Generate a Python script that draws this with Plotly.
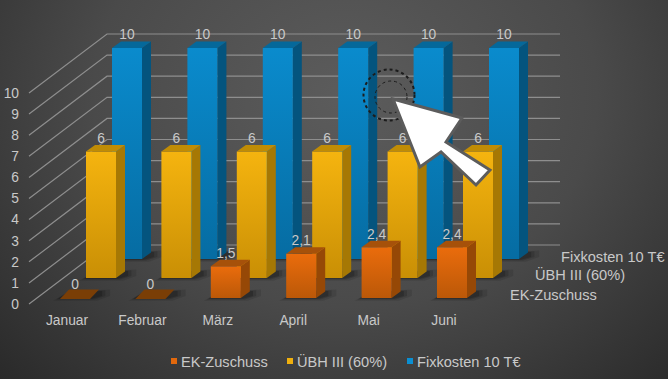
import plotly.graph_objects as go

# ---- data ----
months = ["Januar", "Februar", "März", "April", "Mai", "Juni"]
ek_zuschuss = [0, 0, 1.5, 2.1, 2.4, 2.4]
uebh = [6, 6, 6, 6, 6, 6]
fixkosten = [10, 10, 10, 10, 10, 10]
y_ticks = list(range(0, 11))
series_names = ["EK-Zuschuss", "ÜBH III (60%)", "Fixkosten 10 T€"]

# ---- scale: one axis unit in pixels, and the oblique 3D offsets ----
W, H = 668, 379
PX, PY = 75.4, 21.1
X0, Y0 = 67, 304
FONT = "Liberation Sans, Arial, sans-serif"
TXT = "#c9c9c9"
FS = 13.8
FS_SERIES = 14.6
BAR_W = 30 / PX
DX, DY = 9 / PX, 6.5 / PY
WALL_X, WALL_Y = 78 / PX, 59 / PY
LEFT = (29 - X0) / PX
RIGHT = (560 - X0) / PX

styles = [
    dict(name=series_names[2], vals=fixkosten, ox=60, oy=45, front=("#0a8bcd", "#066ca2"), side="#04547e", top="#05689a", zero="#04547e"),
    dict(name=series_names[1], vals=uebh, ox=34, oy=26, front=("#f5b40f", "#c98f05"), side="#a67804", top="#c08c05", zero="#a67804"),
    dict(name=series_names[0], vals=ek_zuschuss, ox=8, oy=6, front=("#ea6c0c", "#bb5808"), side="#964806", top="#a6510a", zero="#7a3e06"),
]

fig = go.Figure()


def poly(xs, ys, color=None, grad=None):
    kw = dict(x=xs + xs[:1], y=ys + ys[:1], mode="lines", fill="toself",
              line=dict(width=0), hoverinfo="skip", showlegend=False)
    if grad:
        kw["fillgradient"] = dict(type="vertical", colorscale=[[0, grad[1]], [1, grad[0]]])
    else:
        kw["fillcolor"] = color
    fig.add_trace(go.Scatter(**kw))


# background
cx, cy = (345 - X0) / PX, (Y0 - 95) / PY
rx, ry = 560 / PX, 470 / PY
fig.add_trace(go.Scatter(
    x=[cx - rx, cx + rx, cx + rx, cx - rx, cx - rx],
    y=[cy - ry, cy - ry, cy + ry, cy + ry, cy - ry],
    mode="lines", fill="toself", line=dict(width=0), hoverinfo="skip", showlegend=False,
    fillgradient=dict(type="radial", colorscale=[[0, "#5c5c5c"], [0.45, "#4a4a4a"], [1, "#1f1f1f"]]),
))

# wall grid
gx, gy = [], []
for v in y_ticks:
    gx += [LEFT, LEFT + WALL_X, RIGHT, None]
    gy += [v, v + WALL_Y, v + WALL_Y, None]
fig.add_trace(go.Scatter(x=gx, y=gy, mode="lines", line=dict(color="#8e8e8e", width=1.2),
                         hoverinfo="skip", showlegend=False))

# bars
label_x, label_y, label_t = [], [], []
for s in styles:
    ox, oy = s["ox"] / PX, s["oy"] / PY
    for i, v in enumerate(s["vals"]):
        x0 = i + ox - BAR_W / 2
        x1 = x0 + BAR_W
        b = oy
        t = oy + v
        # soft floor shadow
        for grow, alpha in ((7, 0.10), (4, 0.14), (2, 0.18)):
            g = grow / PX
            gyy = grow / PY
            poly([x0 - g, x1 + g, x1 + DX + g * 1.6, x1 + DX + g * 1.6, x0 + DX],
                 [b - gyy * 0.4, b - gyy * 0.4, b + DY * 0.3, b + DY + gyy * 0.3, b + DY],
                 color=f"rgba(0,0,0,{alpha})")
        if v > 0:
            poly([x1, x1 + DX, x1 + DX, x1], [b, b + DY, t + DY, t], color=s["side"])
            poly([x0, x1, x1, x0], [b, b, t, t], grad=s["front"])
            poly([x0, x1, x1 + DX, x0 + DX], [t, t, t + DY, t + DY], color=s["top"])
        else:
            plate = DY * 1.3
            poly([x0, x1, x1 + DX, x0 + DX], [t - 1 / PY, t - 1 / PY, t + plate, t + plate], color=s["zero"])
        label_x.append(i + ox)
        label_y.append(t + DY + 5.5 / PY)
        label_t.append(f"{v:g}".replace(".", ","))

# data labels
fig.add_trace(go.Scatter(x=label_x, y=label_y, text=label_t, mode="text",
                         textposition="middle center", textfont=dict(family=FONT, size=FS, color=TXT),
                         hoverinfo="skip", showlegend=False))

# depth-axis labels
depth_x = [(510 - X0) / PX, (535 - X0) / PX, (561 - X0) / PX]
depth_y = [(Y0 - 296) / PY, (Y0 - 276) / PY, (Y0 - 258) / PY]
fig.add_trace(go.Scatter(x=depth_x, y=depth_y, text=series_names, mode="text",
                         textposition="middle right",
                         textfont=dict(family=FONT, size=FS_SERIES, color=TXT),
                         hoverinfo="skip", showlegend=False))

# legend row, placed exactly where the reference has it
legend_px = [174, 290, 410]
legend_cols = ["#e2680c", "#f0b00e", "#0a8fd2"]
for name, col, lx in zip(series_names, legend_cols, legend_px):
    fig.add_trace(go.Scatter(x=[(lx - X0) / PX], y=[(Y0 - 361) / PY], mode="markers",
                             marker=dict(symbol="square", size=6, color=col),
                             hoverinfo="skip", showlegend=False))
    fig.add_trace(go.Scatter(x=[(lx + 7 - X0) / PX], y=[(Y0 - 363) / PY], text=[name],
                             mode="text", textposition="middle right",
                             textfont=dict(family=FONT, size=FS_SERIES, color=TXT),
                             hoverinfo="skip", showlegend=False))


def p(x, y):
    return f"{x / W:.4f},{1 - y / H:.4f}"


arrow = [(393, 99), (462, 118), (446, 142), (490, 170), (476, 185), (441, 152), (420, 167)]
path = "M " + " L ".join(p(x, y) for x, y in arrow) + " Z"


def circle(x, y, r, width, dash="dot"):
    return dict(type="circle", xref="paper", yref="paper", x0=(x - r) / W, x1=(x + r) / W,
                y0=1 - (y + r) / H, y1=1 - (y - r) / H, layer="above",
                line=dict(color="#1c1c1c", width=width, dash=dash))


fig.update_layout(
    width=W, height=H, margin=dict(l=0, r=0, t=0, b=0),
    paper_bgcolor="#333333", plot_bgcolor="rgba(0,0,0,0)",
    hovermode=False, showlegend=False,
    font=dict(family=FONT, size=FS, color=TXT),
    xaxis=dict(range=[-X0 / PX, (W - X0) / PX], tickvals=list(range(6)), ticktext=months,
               showgrid=False, zeroline=False, showline=False, ticks="", automargin=False,
               anchor="free", position=1 - 310 / H, tickfont=dict(family=FONT, size=FS, color=TXT)),
    yaxis=dict(range=[(Y0 - H) / PY, Y0 / PY], tickvals=y_ticks,
               showgrid=False, zeroline=False, showline=False, ticks="", automargin=False,
               anchor="free", position=19 / W, tickfont=dict(family=FONT, size=FS, color=TXT)),
    shapes=[
        circle(389, 95, 25.5, 2),
        circle(391, 97, 16, 1),
        dict(type="path", path=path, xref="paper", yref="paper", layer="above",
             fillcolor="#ffffff", line=dict(color="#5c5c5c", width=3)),
    ],
)

fig.write_html("out.html", config=dict(displayModeBar=False),
               post_script="document.body.style.margin='0';document.body.style.background='#333';document.documentElement.style.overflow='hidden';")
